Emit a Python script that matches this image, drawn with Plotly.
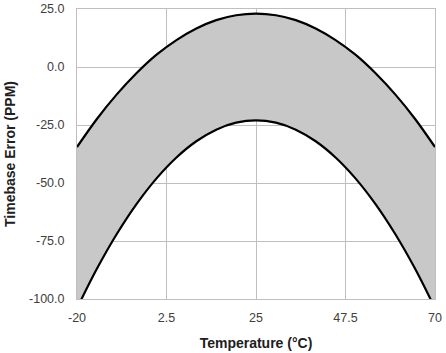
import plotly.graph_objects as go

temps = [-20, -15, -10, -5, 0, 5, 10, 15, 20, 25, 30, 35, 40, 45, 50, 55, 60, 65, 70]
upper = [-34.5, -22.4, -11.8, -2.6, 5.3, 11.6, 16.6, 20.2, 22.3, 23.0,
         22.3, 20.2, 16.6, 11.6, 5.3, -2.6, -11.8, -22.4, -34.5]
lower = [-104.0, -87.0, -72.0, -59.0, -48.0, -39.0, -32.0, -27.0, -24.0, -23.0,
         -24.0, -27.0, -32.0, -39.0, -48.0, -59.0, -72.0, -87.0, -104.0]
x_ticks = [-20, 2.5, 25, 47.5, 70]
x_tick_text = ["-20", "2.5", "25", "47.5", "70"]
y_ticks = [-100, -75, -50, -25, 0, 25]
y_tick_text = ["-100.0", "-75.0", "-50.0", "-25.0", "0.0", "25.0"]

fig = go.Figure()
fig.add_trace(go.Scatter(x=temps, y=lower, mode="lines",
                         line=dict(color="black", width=2.2, shape="spline"),
                         showlegend=False, cliponaxis=True))
fig.add_trace(go.Scatter(x=temps, y=upper, mode="lines", fill="tonexty",
                         fillcolor="#c8c8c8",
                         line=dict(color="black", width=2.2, shape="spline"),
                         showlegend=False, cliponaxis=True))

font_family = "Liberation Sans, Arial, sans-serif"
fig.update_layout(
    width=446, height=353,
    margin=dict(l=77, r=11, t=9, b=54),
    paper_bgcolor="white", plot_bgcolor="white",
    font=dict(family=font_family, color="#404040", size=12),
    xaxis=dict(range=[-20, 70], tickmode="array", tickvals=x_ticks, ticktext=x_tick_text,
               showgrid=True, gridcolor="#bfbfbf", gridwidth=1, zeroline=False,
               showline=True, linecolor="#bfbfbf", mirror=True, automargin=False,
               ticks="", ticklen=0, ticklabelstandoff=7,
               tickfont=dict(size=12.5, color="#404040"),
               title=dict(text="<b>Temperature (°C)</b>", font=dict(size=14, color="#202020"), standoff=14)),
    yaxis=dict(range=[-100, 25], tickmode="array", tickvals=y_ticks, ticktext=y_tick_text,
               showgrid=True, gridcolor="#bfbfbf", gridwidth=1, zeroline=False,
               showline=True, linecolor="#bfbfbf", mirror=True, automargin=False,
               ticks="", ticklen=0, ticklabelstandoff=9,
               tickfont=dict(size=12.5, color="#404040"),
               title=dict(text="<b>Timebase Error (PPM)</b>", font=dict(size=14, color="#202020"), standoff=10)),
)
fig.write_html("out.html")
